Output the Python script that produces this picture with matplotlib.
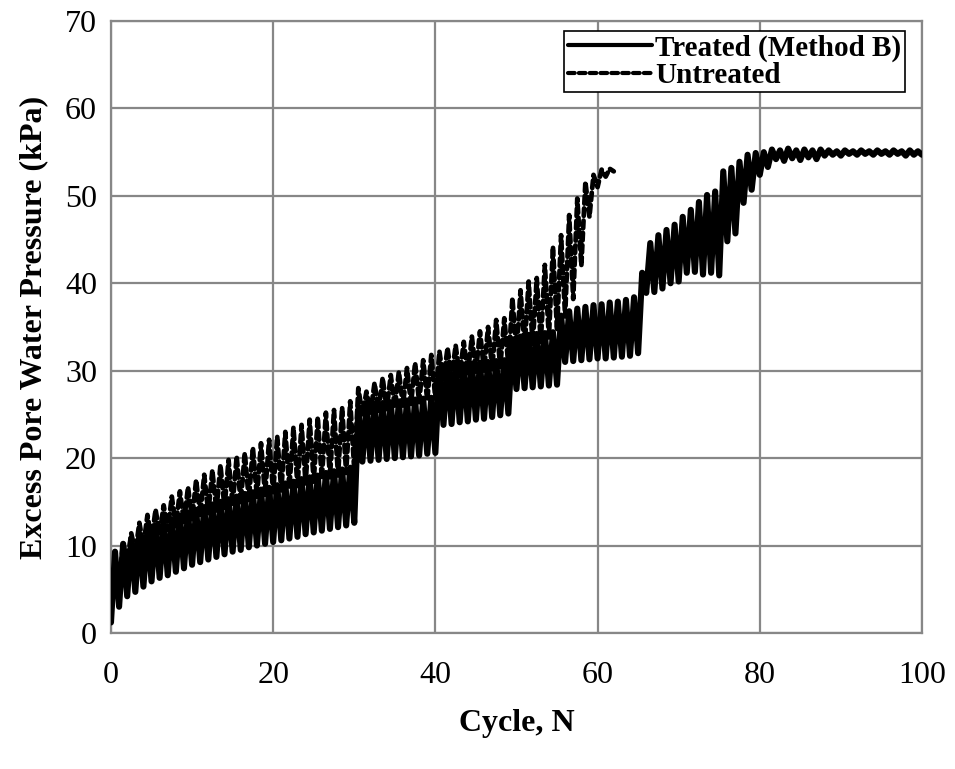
import numpy as np
import matplotlib
matplotlib.use("Agg")
import matplotlib.pyplot as plt

plt.rcParams["font.family"] = ["Liberation Serif", "DejaVu Serif"]

# Excess pore water pressure (kPa): per-cycle peak (at N + 0.5) and trough (at N)
treated_trough = [
    1.2,
    3.0, 4.2, 4.7, 5.3, 5.9, 6.3, 6.6, 7.0, 7.4, 7.8,
    8.1, 8.4, 8.7, 9.0, 9.3, 9.5, 9.8, 10.0, 10.2, 10.4,
    10.6, 10.8, 11.0, 11.3, 11.5, 11.7, 11.9, 12.1, 12.3, 12.6,
    19.6, 19.7, 19.8, 19.9, 20.0, 20.1, 20.2, 20.3, 20.5, 20.6,
    23.8, 23.9, 24.1, 24.2, 24.4, 24.5, 24.7, 24.9, 25.1,
    27.9, 28.0, 28.1, 28.2, 28.3, 28.4,
    31.0, 31.1, 31.2, 31.3, 31.4, 31.4, 31.5, 31.6, 31.7, 32.0,
    38.9, 39.0, 39.4, 40.0, 40.2, 41.2, 41.3, 41.0, 41.2, 40.9,
    44.8, 45.7, 49.2, 50.7, 52.4, 53.3,
    54.2, 54.0, 54.3, 54.1, 54.4, 54.2, 54.6, 54.7, 54.6, 54.8,
    54.7, 54.8, 54.7, 54.8, 54.7, 54.8, 54.6, 54.7, 54.7,
]
treated_peak = [
    9.3, 10.2, 10.8, 11.3, 11.8, 12.3, 12.7, 13.0, 13.4, 13.8,
    14.1, 14.4, 14.7, 15.0, 15.3, 15.6, 15.9, 16.1, 16.4, 16.6,
    16.9, 17.1, 17.3, 17.6, 17.8, 18.0, 18.3, 18.5, 18.7, 18.9,
    25.6, 26.0, 26.2, 26.3, 26.4, 26.5, 26.6, 26.7, 26.8, 26.9,
    30.2, 30.5, 30.6, 30.7, 30.8, 30.9, 31.0, 31.1, 31.2,
    33.6, 33.9, 34.1, 34.2, 34.3, 34.4,
    36.3, 36.8, 37.1, 37.3, 37.5, 37.6, 37.8, 37.9, 38.1, 38.4,
    41.2, 44.6, 45.5, 46.1, 46.7, 47.6, 48.4, 49.3, 50.1, 50.5,
    52.8, 53.2, 53.9, 54.7, 54.9, 55.0,
    55.3, 55.2, 55.4, 55.2, 55.3, 55.2, 55.3, 55.2, 55.1, 55.2,
    55.1, 55.2, 55.1, 55.2, 55.1, 55.2, 55.1, 55.2, 55.1,
]

untreated_trough = [
    1.5,
    6.0, 8.0, 9.2, 10.0, 10.7, 11.3, 11.8, 12.2, 12.6, 13.0,
    13.4, 13.7, 14.0, 14.3, 14.6, 14.9, 15.2, 15.5, 15.8, 16.1,
    16.3, 16.6, 16.8, 17.1, 17.3, 17.6, 17.8, 18.0, 18.3, 18.6,
    25.0, 25.2, 25.4, 25.6, 25.8, 26.0, 26.2, 26.4, 26.6, 26.8,
    29.0, 29.2, 29.4, 29.6, 29.8, 30.0, 30.2, 30.4, 30.6, 32.0,
    32.6, 33.0, 33.3, 33.8, 34.6, 36.2, 38.2, 42.0, 47.6, 51.0,
    52.2, 52.8,
]
untreated_peak = [
    8.5, 10.3, 11.4, 12.6, 13.5, 14.1, 14.6, 15.6, 16.2, 16.7,
    17.5, 18.1, 18.6, 19.2, 19.8, 20.2, 20.6, 21.2, 21.7, 22.1,
    22.5, 23.0, 23.5, 23.8, 24.4, 24.7, 25.2, 25.5, 25.8, 26.5,
    28.0, 27.6, 28.6, 29.2, 29.5, 29.9, 30.3, 30.9, 31.2, 31.8,
    32.2, 32.6, 32.9, 33.3, 33.9, 34.5, 35.0, 35.8, 36.0, 38.3,
    39.2, 40.2, 40.6, 42.1, 44.2, 45.5, 47.8, 49.7, 51.6, 52.4,
    53.0, 53.1,
]

labels = ["Treated (Method B)", "Untreated"]
x_ticks = [0, 20, 40, 60, 80, 100]
y_ticks = [0, 10, 20, 30, 40, 50, 60, 70]


def cycle_trace(troughs, peaks):
    """Interleave troughs (at N) and peaks (at N + 0.5) into one trace."""
    n_t = np.arange(len(troughs), dtype=float)
    n_p = np.arange(len(peaks), dtype=float) + 0.5
    x = np.empty(len(troughs) + len(peaks))
    y = np.empty_like(x)
    x[0::2], y[0::2] = n_t, troughs
    x[1::2], y[1::2] = n_p, peaks
    return x, y


fig = plt.figure(figsize=(9.55, 7.69), dpi=100)
ax = fig.add_axes([0.1162, 0.1769, 0.8492, 0.7958])

grid_c = "#878787"
ax.set_xlim(0, 100)
ax.set_ylim(0, 70)
ax.set_xticks(x_ticks)
ax.set_yticks(y_ticks)
ax.grid(True, color=grid_c, linewidth=1.6)
ax.set_axisbelow(True)
for s in ax.spines.values():
    s.set_color(grid_c)
    s.set_linewidth(1.6)
ax.tick_params(length=0, labelsize=23)
ax.tick_params(axis="x", pad=20)
ax.tick_params(axis="y", pad=10)

xt, yt = cycle_trace(treated_trough, treated_peak)
xu, yu = cycle_trace(untreated_trough, untreated_peak)

ax.plot(xu, yu, color="black", lw=3.4, linestyle=(0, (1.6, 1.0)),
        dash_capstyle="round", label=labels[1], zorder=2)
ax.plot(xt, yt, color="black", lw=4.4, solid_joinstyle="round",
        solid_capstyle="round", label=labels[0], zorder=3)

ax.set_xlabel("Cycle, N", fontsize=23, fontweight="bold", labelpad=14)
ax.set_ylabel("Excess Pore Water Pressure (kPa)", fontsize=23,
              fontweight="bold", labelpad=12)

handles, names = ax.get_legend_handles_labels()
order = [names.index(lbl) for lbl in labels]
leg = ax.legend([handles[i] for i in order], [names[i] for i in order],
                loc="upper right", bbox_to_anchor=(0.986, 0.993),
                prop={"weight": "bold", "size": 21}, frameon=True,
                fancybox=False, edgecolor="black", framealpha=1,
                borderpad=0.12, labelspacing=0.0, handlelength=2.9,
                handletextpad=0.1, borderaxespad=0.2)
leg.get_frame().set_linewidth(1.2)
for h in leg.get_lines():
    h.set_linewidth(3.0)

fig.savefig("out.png", dpi=100)
